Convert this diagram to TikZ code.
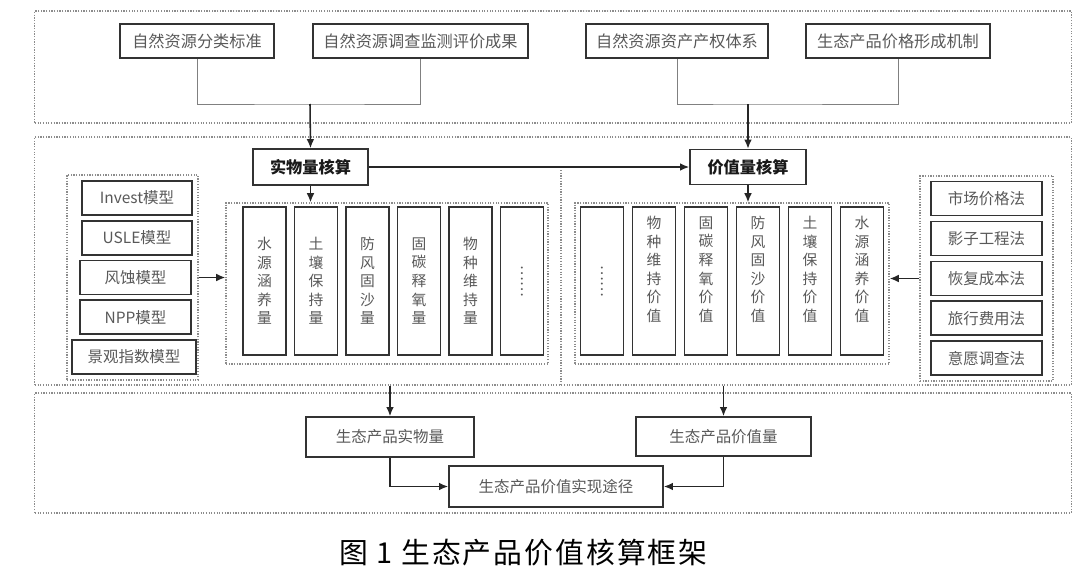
\documentclass[tikz,border=0pt]{standalone}
\usepackage{fontspec}
\setmainfont{Noto Sans CJK SC}
\usepackage{tikz}
\usetikzlibrary{arrows.meta,positioning,calc}

\begin{document}
\begin{tikzpicture}[x=0.025cm, y=-0.025cm, >={Latex[length=6.5pt,width=5.5pt]}]
    \tikzstyle{frame} = [draw=black!45, densely dotted, line width=0.9pt, inner sep=0pt]
    \tikzstyle{block} = [rectangle, draw=black!80, line width=1.1pt, fill=white, text=black!65, inner sep=0pt, font=\fontsize{11.5}{13}\selectfont]
    \tikzstyle{head} = [block, text=black!90, font=\fontsize{11.5}{13}\selectfont\bfseries]
    \tikzstyle{column} = [block, align=center, minimum width=1.075cm, minimum height=3.7cm, font=\fontsize{10.5}{13.2}\selectfont]
    \tikzstyle{line} = [draw, ->, line width=1.1pt, black!85]
    \tikzstyle{feed} = [draw, line width=0.6pt, black!50]

    \useasboundingbox[fill=white] (0,0) rectangle (1080,579);

    % three outer frames
    \node [frame, minimum width=25.9cm, minimum height=2.8cm] (basis) at (553,67) {};
    \node [frame, minimum width=25.9cm, minimum height=6.2cm] (account) at (553,261) {};
    \node [frame, minimum width=25.9cm, minimum height=3cm] (result) at (553,453) {};
    \coordinate (divtop) at (561,170);
    \draw [frame] (divtop) -- (divtop |- account.south);

    % basis row
    \node [block, minimum width=3.85cm, minimum height=0.85cm] (std) at (197,41) {自然资源分类标准};
    \node [block, minimum width=5.375cm, minimum height=0.85cm] (survey) at (420.5,41) {自然资源调查监测评价成果};
    \node [block, minimum width=4.55cm, minimum height=0.85cm] (rights) at (677,41) {自然资源资产产权体系};
    \node [block, minimum width=4.6cm, minimum height=0.85cm] (price) at (898,41) {生态产品价格形成机制};
    \coordinate (jl) at (310,104);
    \coordinate (jr) at (748,104);

    % accounting heads
    \node [head, minimum width=2.875cm, minimum height=0.9cm] (phys) at (310.5,167) {实物量核算};
    \node [head, minimum width=2.9cm, minimum height=0.875cm] (value) at (748,167) {价值量核算};

    \draw [feed] (std.south) |- (jl) -| (survey.south);
    \draw [feed] (rights.south) |- (jr) -| (price.south);
    \draw [line] (jl) -- (phys.north);
    \draw [line] (jr) -- (value.north);
    \draw [line] (phys) -- (value);

    % models
    \node [frame, minimum width=3.275cm, minimum height=5.125cm] (models) at (132.5,277.5) {};
    \foreach \name/\cx/\w [count=\i] in {Invest模型/137/110, USLE模型/137/110, 风蚀模型/135.5/111, NPP模型/135.5/111, 景观指数模型/134/124}
        \node [block, minimum width=\w*0.025cm, minimum height=0.85cm, font=\fontsize{11}{13}\selectfont] (m\i) at (\cx, {158.25+39.75*\i}) {\name};

    % physical quantities
    \node [frame, minimum width=8.05cm, minimum height=4.025cm] (physset) at (387,283.5) {};
    \foreach \t [count=\i] in {{水\\源\\涵\\养\\量}, {土\\壤\\保\\持\\量}, {防\\风\\固\\沙\\量}, {固\\碳\\释\\氧\\量}, {物\\种\\维\\持\\量}}
        \node [column] (p\i) at ({264.5+51.5*(\i-1)}, 281) {\t};
    \node [column] (p6) at (522,281) {\rotatebox{-90}{……}};

    % values
    \node [frame, minimum width=7.85cm, minimum height=4.025cm] (valset) at (732,283.5) {};
    \node [column] (v1) at (602,281) {\rotatebox{-90}{……}};
    \foreach \t [count=\i from 2] in {{物\\种\\维\\持\\价\\值}, {固\\碳\\释\\氧\\价\\值}, {防\\风\\固\\沙\\价\\值}, {土\\壤\\保\\持\\价\\值}, {水\\源\\涵\\养\\价\\值}}
        \node [column] (v\i) at ({602+52*(\i-1)}, 281) {\t\\[4pt]\mbox{}};

    % methods
    \node [frame, minimum width=3.325cm, minimum height=5.125cm] (methods) at (986.5,278.5) {};
    \foreach \name [count=\i] in {市场价格法, 影子工程法, 恢复成本法, 旅行费用法, 意愿调查法}
        \node [block, minimum width=2.775cm, minimum height=0.85cm, font=\fontsize{11}{13}\selectfont] (k\i) at (986.5, {158.6+39.9*\i}) {\name};

    \draw [line] (phys.south) -- (phys.south |- physset.north);
    \draw [line] (value.south) -- (value.south |- valset.north);
    \draw [line] (models.east) -- (models.east -| physset.west);
    \draw [line] (methods.west) -- (methods.west -| valset.east);

    % results
    \node [block, minimum width=4.2cm, minimum height=1cm, font=\fontsize{11}{13}\selectfont] (sumphys) at (390,437) {生态产品实物量};
    \node [block, minimum width=4.375cm, minimum height=0.975cm, font=\fontsize{11}{13}\selectfont] (sumval) at (723.5,436.5) {生态产品价值量};
    \node [block, minimum width=5.35cm, minimum height=1.025cm, font=\fontsize{11}{13}\selectfont] (route) at (556,486.5) {生态产品价值实现途径};
    \draw [line] (sumphys.north |- account.south) -- (sumphys.north);
    \draw [line] (sumval.north |- account.south) -- (sumval.north);
    \draw [line] (sumphys.south) |- (route.west);
    \draw [line] (sumval.south) |- (route.east);

    \node [font=\fontsize{20.5}{24}\selectfont\addfontfeature{LetterSpace=7}] (caption) at (523.5,553) {图 1 生态产品价值核算框架};
\end{tikzpicture}
\end{document}
